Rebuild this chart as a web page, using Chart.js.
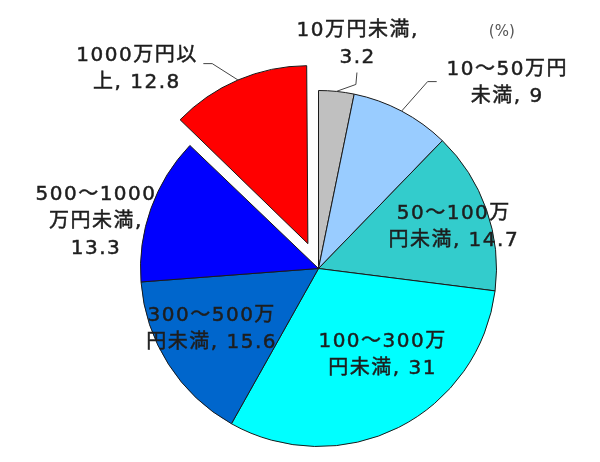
<!DOCTYPE html>
<html>
<head>
<meta charset="utf-8">
<script src="https://cdn.jsdelivr.net/npm/chart.js@4"></script>
<style>
  html, body { margin: 0; padding: 0; background: #fff; }
  #wrap { width: 600px; height: 462px; }
</style>
</head>
<body>
<div id="wrap"><canvas id="pieChart"></canvas></div>
<script>
const categories = [
  "10万円未満", "10～50万円未満", "50～100万円未満", "100～300万円未満",
  "300～500万円未満", "500～1000万円未満", "1000万円以上",
];

const shares = [3.2, 9, 14.7, 31, 15.6, 13.3, 12.8];

const unitNote = "(%)";

// where each "category, value" label wraps (character index)
const breaks = [[7], [7], [7], [8], [8], [8, 13], [7]];

const colors = ["#c0c0c0", "#99ccff", "#33cccc", "#00ffff", "#0066cc", "#0000ff", "#ff0000"];

// pulled-out slice; chart.js moves an arc by offset / 4
const explode = [0, 0, 0, 0, 0, 0, 108];

// label block centres, in pie radii from the centre
const labelPos = [
  [0.22, -1.26], [1.06, -1.04], [0.76, -0.23], [0.36, 0.49],
  [-0.6, 0.34], [-1.25, -0.26], [-1.02, -1.12],
];

// leader lines: start on the slice edge, then these points (pie radii)
const leaders = {
  0: [[0.21, -1.034], [0.216, -1.101]],
  1: [[0.613, -1.05], [0.664, -1.05]],
  6: [[-0.597, -1.151], [-0.647, -1.151]],
};

function splitLabel(i) {
  const s = categories[i] + ", " + shares[i];
  const out = [];
  let from = 0;
  breaks[i].forEach((b) => {
    out.push(s.slice(from, b).trim());
    from = b;
  });
  out.push(s.slice(from).trim());
  return out;
}

const pieLabels = {
  id: "pieLabels",
  // keep the pulled-out slice at the same radius as the others
  afterDatasetUpdate(chart, args) {
    const arcs = chart.getDatasetMeta(args.index).data;
    arcs.forEach((arc) => {
      const off = (arc.options.offset || 0) / 4;
      if (!off) return;
      const fix = 1 - Math.sin(Math.min(Math.PI, arc.circumference || 0));
      arc.outerRadius -= off * fix;
    });
  },
  afterDatasetsDraw(chart) {
    const ctx = chart.ctx;
    const arcs = chart.getDatasetMeta(0).data;
    if (!arcs.length) return;
    const c = arcs[0].getProps(["x", "y", "outerRadius"], true);
    const r = c.outerRadius;
    ctx.save();

    // leader lines
    ctx.strokeStyle = "#444";
    ctx.lineWidth = 1;
    Object.keys(leaders).forEach((k) => {
      const arc = arcs[k];
      const p = arc.getProps(["startAngle", "endAngle"], true);
      const mid = (p.startAngle + p.endAngle) / 2;
      const d = r + (arc.options.offset || 0) / 4;
      ctx.beginPath();
      ctx.moveTo(c.x + Math.cos(mid) * d, c.y + Math.sin(mid) * d);
      leaders[k].forEach((pt) => ctx.lineTo(c.x + pt[0] * r, c.y + pt[1] * r));
      ctx.stroke();
    });

    // labels
    ctx.fillStyle = "#1e1e1e";
    ctx.strokeStyle = "#1e1e1e";
    ctx.lineWidth = 0.5;
    ctx.textAlign = "center";
    ctx.textBaseline = "middle";
    ctx.font = '20px "DejaVu Sans", "Noto Sans CJK JP"';
    ctx.letterSpacing = "1.5px";
    const lh = 27;
    arcs.forEach((arc, i) => {
      const lines = splitLabel(i);
      const bx = c.x + labelPos[i][0] * r;
      const by = c.y + labelPos[i][1] * r - ((lines.length - 1) * lh) / 2;
      lines.forEach((t, j) => {
        ctx.fillText(t, bx, by + j * lh);
        ctx.strokeText(t, bx, by + j * lh);
      });
    });

    ctx.fillStyle = "#555";
    ctx.font = '15px "DejaVu Sans", "Noto Sans CJK JP"';
    ctx.letterSpacing = "0px";
    ctx.fillText(unitNote, c.x + 1.03 * r, c.y - 1.33 * r);
    ctx.restore();
  },
};

new Chart(document.getElementById("pieChart"), {
  type: "pie",
  data: {
    labels: categories,
    datasets: [
      {
        data: shares,
        backgroundColor: colors,
        borderColor: "#1a1a1a",
        borderWidth: 1,
        offset: explode,
        clip: false,
      },
    ],
  },
  options: {
    responsive: true,
    maintainAspectRatio: false,
    animation: false,
    radius: 178,
    layout: { padding: { left: 37, right: 0, top: 75, bottom: 0 } },
    plugins: {
      legend: { display: false },
      tooltip: { enabled: false },
    },
  },
  plugins: [pieLabels],
});
</script>
</body>
</html>
